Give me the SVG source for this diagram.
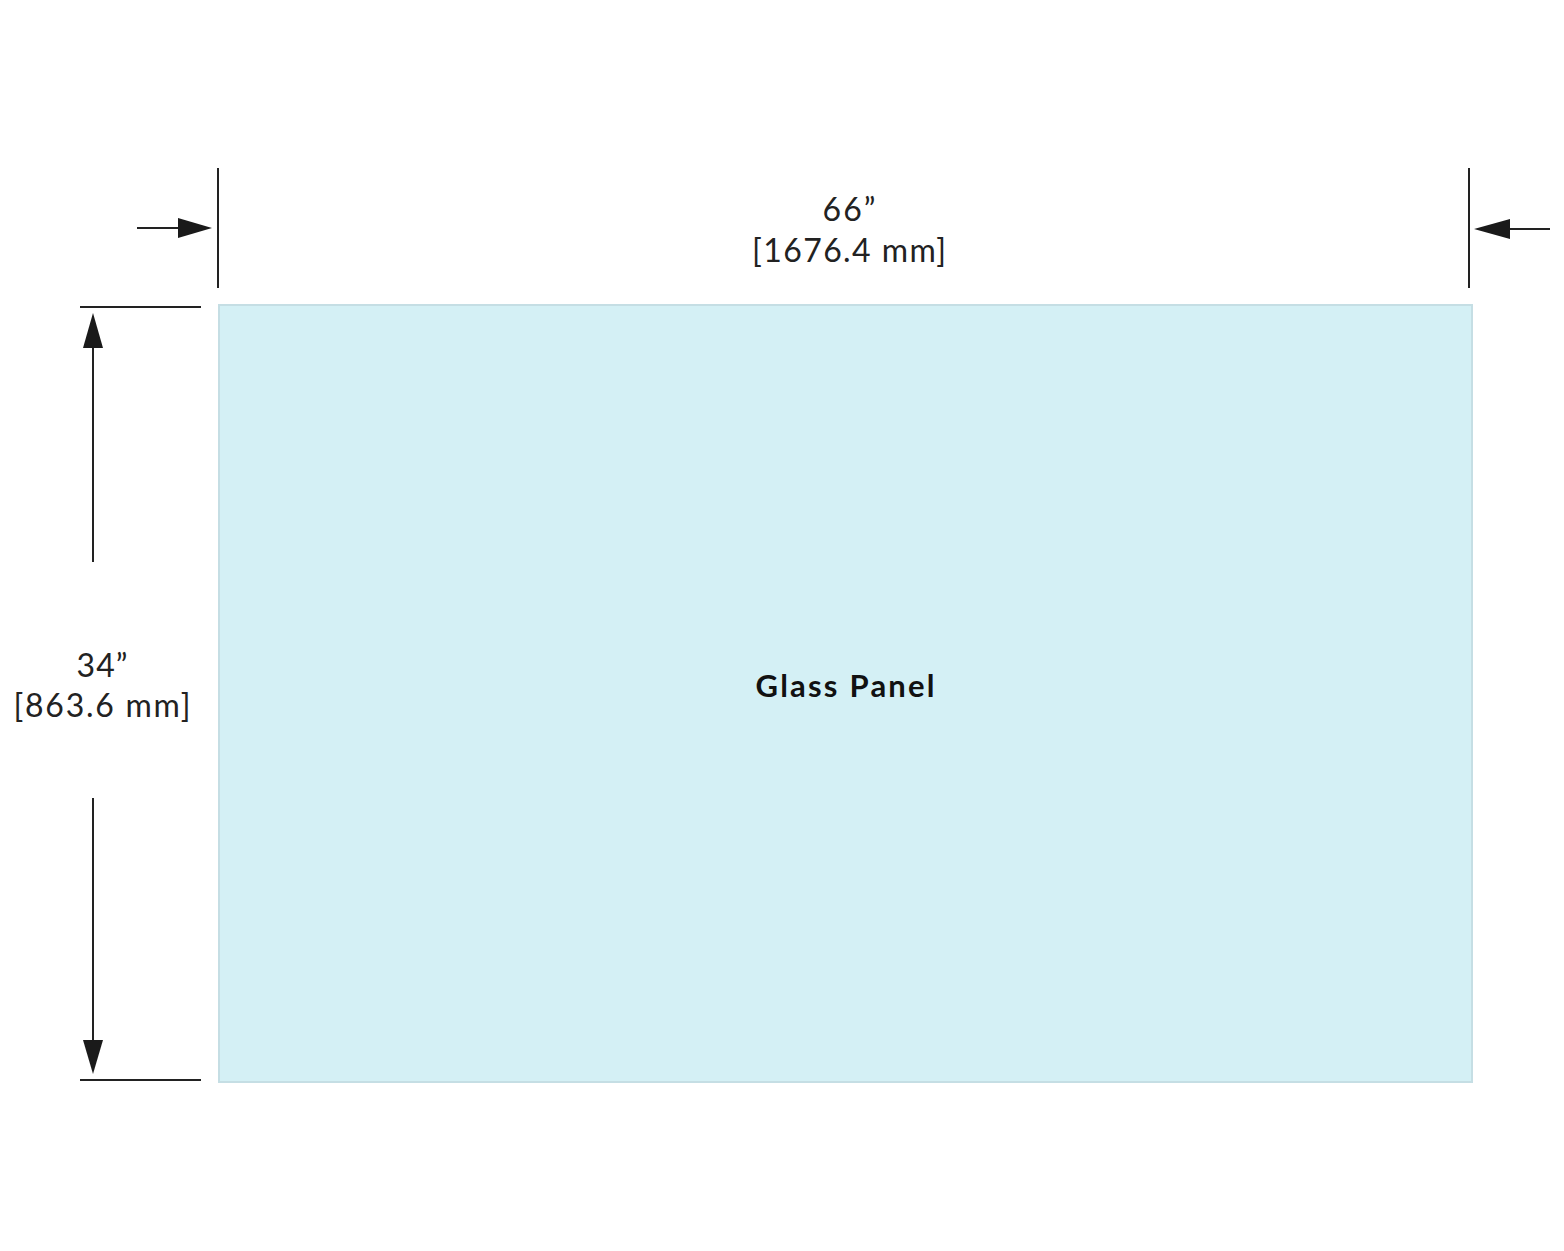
<svg xmlns="http://www.w3.org/2000/svg" width="1564" height="1251" viewBox="0 0 1564 1251">
<style>
.dim{stroke:#222;stroke-width:2;fill:none}
.ah{fill:#1a1a1a;stroke:none}
.t{font-family:"Lato","Liberation Sans",sans-serif;font-size:32px;fill:#222;text-anchor:middle}
.b{font-family:"Lato","Liberation Sans",sans-serif;font-size:31px;font-weight:bold;fill:#111;text-anchor:middle}
</style>
<rect width="1564" height="1251" fill="#fff"/>
<g id="panel">
<rect x="219" y="305" width="1253" height="777" fill="#d4f0f5" stroke="#c5dee4" stroke-width="2"/>
<text class="b" x="845" y="697" textLength="179" lengthAdjust="spacing">Glass Panel</text>
</g>
<g id="connectors">
<line class="dim" x1="218" y1="168" x2="218" y2="288"/>
<line class="dim" x1="1469" y1="168" x2="1469" y2="288"/>
<line class="dim" x1="137" y1="228" x2="180" y2="228"/>
<polygon class="ah" points="212,228 178,218 178,238"/>
<line class="dim" x1="1508" y1="229" x2="1550" y2="229"/>
<polygon class="ah" points="1474,229 1510,219 1510,239"/>
<line class="dim" x1="80" y1="307" x2="201" y2="307"/>
<line class="dim" x1="80" y1="1080" x2="201" y2="1080"/>
<line class="dim" x1="93" y1="346" x2="93" y2="562"/>
<polygon class="ah" points="93,313 83,348 103,348"/>
<line class="dim" x1="93" y1="798" x2="93" y2="1042"/>
<polygon class="ah" points="93,1074 83,1040 103,1040"/>
</g>
<g id="labels">
<text class="t" x="849" y="221" textLength="53" lengthAdjust="spacing">66”</text>
<text class="t" x="849" y="262" textLength="194" lengthAdjust="spacing">[1676.4 mm]</text>
<text class="t" x="102" y="677" textLength="51" lengthAdjust="spacing">34”</text>
<text class="t" x="102" y="717" textLength="177" lengthAdjust="spacing">[863.6 mm]</text>
</g>
</svg>
